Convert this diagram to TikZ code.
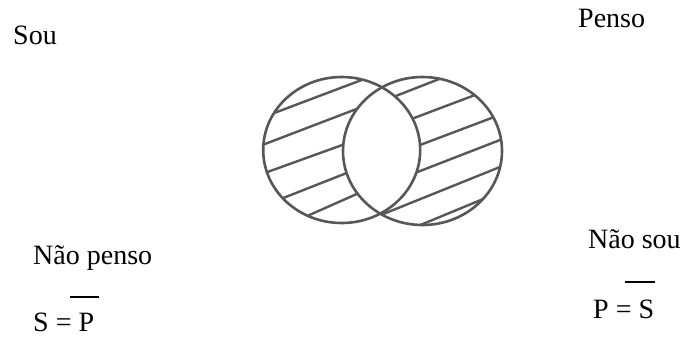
\documentclass[tikz,border=0pt]{standalone}
\usepackage{fontspec}
\setmainfont{Liberation Serif}
\usetikzlibrary{calc}
\definecolor{inkgray}{HTML}{575757}
\tikzset{
  lbl/.style={anchor=base west, inner sep=0pt, font=\fontsize{28}{32}\selectfont},
  ring/.style={draw=inkgray, line width=2.6pt},
  hatch/.style={draw=inkgray, line width=2.4pt},
  bar/.style={draw=black, line width=1.8pt}
}
\newcommand{\hatchseg}[2]{\draw[hatch] ($(#1)!-0.4!(#2)$) -- ($(#2)!-0.4!(#1)$);}
\begin{document}
\begin{tikzpicture}[x=1pt,y=-1pt]
\useasboundingbox (0,0) rectangle (682,338);
% circles
\coordinate (cl) at (341.7,150);
\coordinate (cr) at (422.5,151);
% left crescent hatching
\begin{scope}[even odd rule]
  \clip (cl) ellipse [x radius=78.5, y radius=73];
  \clip (150,0) rectangle (600,338) (cr) ellipse [x radius=79.5, y radius=74];
  \hatchseg{275,112.7}{361.7,80}
  \hatchseg{265,144}{358.3,108.3}
  \hatchseg{268.3,171.7}{345,144}
  \hatchseg{285,197.3}{350,171.7}
  \hatchseg{311.7,214}{358.3,193.3}
\end{scope}
% right crescent hatching
\begin{scope}[even odd rule]
  \clip (cr) ellipse [x radius=79.5, y radius=74];
  \clip (150,0) rectangle (600,338) (cl) ellipse [x radius=78.5, y radius=73];
  \hatchseg{398.3,95}{436.7,80}
  \hatchseg{413.3,118.3}{475,95}
  \hatchseg{420,145}{495,116.7}
  \hatchseg{418.3,171.7}{500,140}
  \hatchseg{385,213.3}{496.7,168.3}
  \hatchseg{428.3,221.7}{476.7,201.7}
\end{scope}
\draw[ring] (cl) ellipse [x radius=78.5, y radius=73];
\draw[ring] (cr) ellipse [x radius=79.5, y radius=74];
% labels
\node[lbl] (sou) at (13,44) {Sou};
\node[lbl] (penso) at (578,27) {Penso};
\node[lbl] (naopenso) at (33,264) {Não penso};
\node[lbl] (eqs) at (33,331) {S = P};
\node[lbl] (naosou) at (588,248) {Não sou};
\node[lbl] (eqp) at (593,318) {P = S};
\coordinate (b1a) at (70,297);
\coordinate (b1b) at (99,297);
\coordinate (b2a) at (625,282);
\coordinate (b2b) at (655,282);
\draw[bar] (b1a) -- (b1b);
\draw[bar] (b2a) -- (b2b);
\end{tikzpicture}
\end{document}
